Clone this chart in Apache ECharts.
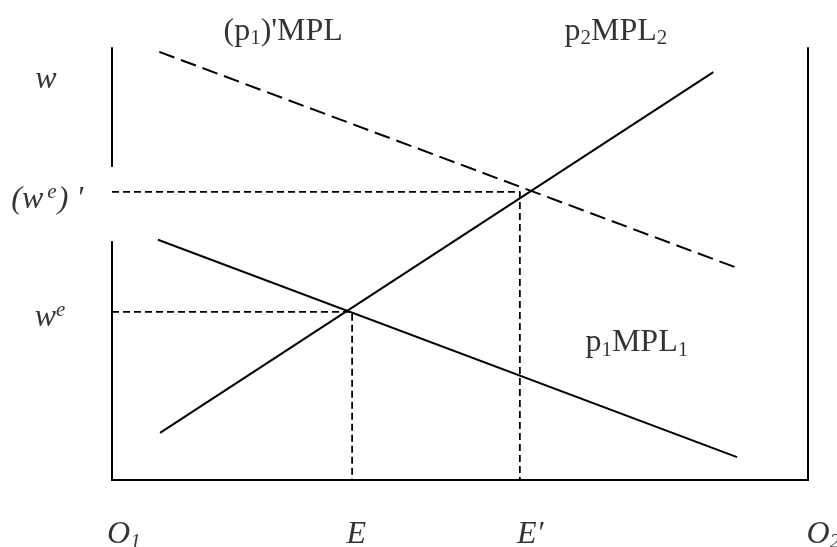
<!DOCTYPE html>
<html>
<head>
<meta charset="utf-8">
<title>labour market diagram</title>
<script src="https://cdn.jsdelivr.net/npm/echarts@6/dist/echarts.min.js"></script>
<style>
  html, body { margin: 0; padding: 0; background: #ffffff; }
  #chart { width: 837px; height: 547px; }
</style>
</head>
<body>
<div id="chart"></div>
<script>
// labour from O1 (0) to O2 (100), wage 0..100
const p1MPL1 = [[6.6, 55.6], [89.8, 5.3]];
const p1MPLshift = [[6.8, 99.1], [89.8, 49.1]];
const p2MPL2 = [[6.9, 10.9], [86.4, 94.4]];
const eqE = [34.5, 38.9];
const eqE2 = [58.6, 66.7];
// gap in the left axis behind the (w^e)' label
const axisGap = [55.3, 72.5];

// text labels: rich text, x, y
const labelText = [
  "{r|(p}{sub|1}{r|)'MPL}",
  "{r|p}{sub|2}{r|MPL}{sub|2}",
  "{r|p}{sub|1}{r|MPL}{sub|1}",
  "{i|w}",
  "{i|(w}{supsp|e}{i|) '}",
  "{i|w}{sup|e}",
  "{i|O}{isub|1}",
  "{i|E}",
  "{i|E′}",
  "{i|O}{isub|2}"
];
const labelX = [24.6, 72.4, 75.4, -9.5, -9.3, -8.9, 1.7, 35.1, 60.1, 102.2];
const labelY = [103.9, 103.9, 31.7, 92.6, 64.8, 37.5, -12.7, -12.7, -12.7, -12.7];

const chart = echarts.init(document.getElementById("chart"));

const serif = "'Liberation Serif', 'Times New Roman', serif";
const rich = {
  r: { fontFamily: serif, fontSize: 32, lineHeight: 36, color: "#000" },
  sub: { fontFamily: serif, fontSize: 21, lineHeight: 21, padding: [11, 0, 0, 0], verticalAlign: "bottom", color: "#000" },
  i: { fontFamily: serif, fontStyle: "italic", fontSize: 32, lineHeight: 36, color: "#000" },
  isub: { fontFamily: serif, fontStyle: "italic", fontSize: 21, lineHeight: 21, padding: [11, 0, 0, 0], verticalAlign: "bottom", color: "#000" },
  sup: { fontFamily: serif, fontStyle: "italic", fontSize: 21, lineHeight: 21, verticalAlign: "top", color: "#000" },
  supsp: { fontFamily: serif, fontStyle: "italic", fontSize: 21, lineHeight: 21, padding: [0, 1, 0, 4], verticalAlign: "top", color: "#000" }
};

const guide = { color: "#000", width: 1.8, type: [7, 4] };

const option = {
  animation: false,
  backgroundColor: "#ffffff",
  grid: { left: 112, right: 29, top: 48, bottom: 67 },
  xAxis: {
    type: "value", min: 0, max: 100,
    axisLine: { show: true, lineStyle: { color: "#000", width: 2 } },
    axisTick: { show: false }, axisLabel: { show: false }, splitLine: { show: false }
  },
  yAxis: [
    {
      type: "value", min: 0, max: 100, position: "left",
      axisLine: { show: true, onZero: false, lineStyle: { color: "#000", width: 2 } },
      axisTick: { show: false }, axisLabel: { show: false }, splitLine: { show: false }
    },
    {
      type: "value", min: 0, max: 100, position: "right",
      axisLine: { show: true, onZero: false, lineStyle: { color: "#000", width: 2 } },
      axisTick: { show: false }, axisLabel: { show: false }, splitLine: { show: false }
    }
  ],
  series: [
    {
      name: "p1MPL1", type: "line", data: p1MPL1, symbol: "none",
      lineStyle: { color: "#000", width: 2 }, z: 3
    },
    {
      name: "(p1)'MPL", type: "line", data: p1MPLshift, symbol: "none",
      lineStyle: { color: "#000", width: 2, type: [16, 7] }, z: 3
    },
    {
      name: "p2MPL2", type: "line", data: p2MPL2, symbol: "none",
      lineStyle: { color: "#000", width: 2 }, z: 3
    },
    {
      name: "we", type: "line", symbol: "none", lineStyle: guide,
      data: [[0, eqE[1]], [eqE[0], eqE[1]], [eqE[0], 0]]
    },
    {
      name: "we2", type: "line", symbol: "none", lineStyle: guide,
      data: [[0, eqE2[1]], [eqE2[0], eqE2[1]], [eqE2[0], 0]]
    },
    {
      name: "labels", type: "scatter", symbolSize: 0, clip: false, z: 5,
      data: labelText.map((t, k) => ({ value: [labelX[k], labelY[k]], name: t })),
      label: {
        show: true, position: "inside",
        formatter: (p) => p.name,
        rich: rich
      }
    }
  ]
};
chart.setOption(option);

const gapTop = chart.convertToPixel({ gridIndex: 0 }, [0, axisGap[1]]);
const gapBottom = chart.convertToPixel({ gridIndex: 0 }, [0, axisGap[0]]);
chart.setOption({
  graphic: [{
    type: "rect", z: 1,
    shape: { x: gapTop[0] - 4, y: gapTop[1], width: 7, height: gapBottom[1] - gapTop[1] },
    style: { fill: "#ffffff" }
  }]
});
</script>
</body>
</html>
